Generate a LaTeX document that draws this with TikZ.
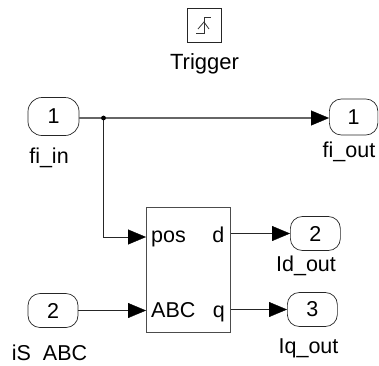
\documentclass[tikz,border=0pt]{standalone}
\usepackage{fontspec}
\setmainfont{Liberation Sans}
\usetikzlibrary{arrows.meta}
\tikzset{
  x=1pt,y=-1pt,
  port/.style={draw=black!85,line width=0.7pt,rounded corners=12pt,minimum width=#1,minimum height=34pt,inner sep=0pt,font=\fontsize{21.5}{24}\selectfont},
  lbl/.style={anchor=base,inner sep=0pt,font=\fontsize{21.5}{24}\selectfont},
  wire/.style={draw=black!85,line width=0.8pt},
  thick wire/.style={draw=black!60,line width=1.4pt},
  arr/.style={-{Triangle[length=18pt,width=15pt,fill=black,color=black,line width=0.3pt]}},
}
\begin{document}
\begin{tikzpicture}
\useasboundingbox (0,0) rectangle (379,365);
% Trigger
\node[draw=black!85,line width=0.8pt,minimum width=34pt,minimum height=34pt,inner sep=0pt] (trig) at (204,25) {};
\draw[black!80,line width=0.8pt] (196,33) -- (204,33) -- (204,17) -- (211,17);
\draw[black!80,line width=0.8pt] (198,29) -- (204,22) -- (209,29);
\node[lbl,font=\fontsize{22}{24}\selectfont] (trigl) at (204.5,69) {Trigger};
% ports
\node[port=51pt,minimum height=38pt,rounded corners=14pt] (in1) at (53.5,116.5) {\raisebox{-2pt}{1}};
\node[lbl] (in1l) at (49,163) {fi\_in};
\node[port=50pt] (in2) at (53,310.5) {\raisebox{-2.5pt}{2}};
\node[lbl] (in2l) at (49.5,360) {iS\ \ ABC};
\node[port=48.5pt,minimum height=36pt,anchor=west] (out1) at (329,117) {\raisebox{-2pt}{1}};
\node[lbl] (out1l) at (349,157) {fi\_out};
\node[port=50pt,anchor=west] (out2) at (290,233.5) {2};
\node[lbl] (out2l) at (306,271) {Id\_out};
\node[port=50pt,anchor=west] (out3) at (287,309.5) {\raisebox{-2pt}{3}};
\node[lbl] (out3l) at (308.5,353) {Iq\_out};
% block
\node[draw=black!70,line width=1pt,minimum width=84pt,minimum height=125pt,inner sep=0pt,anchor=north west] (blk) at (146,207) {};
\node[lbl,anchor=base west] (pos) at (151,242) {pos};
\node[lbl,anchor=base west] (abc) at (151,317) {ABC};
\node[lbl,anchor=base east] (d) at (224.5,242) {d};
\node[lbl,anchor=base east] (q) at (225,317) {q};
% anchor points
\coordinate (j) at (103.5,118);
\coordinate (posin) at (blk.west |- 0,237);
\coordinate (abcin) at (blk.west |- in2.east);
\coordinate (dout) at (blk.east |- out2.west);
\coordinate (qout) at (blk.east |- out3.west);
% connectors
\draw[thick wire] (in1.east |- j) -- (j);
\draw[thick wire,arr] (j) -- (out1.west |- j);
\draw[wire,arr] (j) |- (posin);
\draw[wire,arr] (in2.east) -- (abcin);
\draw[wire,arr] (dout) -- (out2.west);
\draw[wire,arr] (qout) -- (out3.west);
\fill (j) circle (2.4pt);
\end{tikzpicture}
\end{document}
